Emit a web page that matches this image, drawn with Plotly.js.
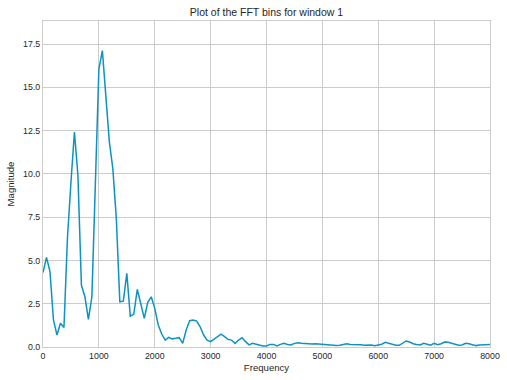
<!DOCTYPE html>
<html>
<head>
<meta charset="utf-8">
<script src="https://cdn.plot.ly/plotly-3.0.1.min.js"></script>
<style>
  html, body { margin: 0; padding: 0; background: #ffffff; }
  #chart { width: 507px; height: 380px; }
</style>
</head>
<body>
<div id="chart"></div>
<script>
// FFT bin frequencies (Hz)
const frequencies = [
  0, 62.5, 125, 187.5, 250, 312.5, 375, 437.5, 500, 562.5,
  625, 687.5, 750, 812.5, 875, 937.5, 1000, 1062.5, 1125, 1187.5,
  1250, 1312.5, 1375, 1437.5, 1500, 1562.5, 1625, 1687.5, 1750, 1812.5,
  1875, 1937.5, 2000, 2062.5, 2125, 2187.5, 2250, 2312.5, 2375, 2437.5,
  2500, 2562.5, 2625, 2687.5, 2750, 2812.5, 2875, 2937.5, 3000, 3062.5,
  3125, 3187.5, 3250, 3312.5, 3375, 3437.5, 3500, 3562.5, 3625, 3687.5,
  3750, 3812.5, 3875, 3937.5, 4000, 4062.5, 4125, 4187.5, 4250, 4312.5,
  4375, 4437.5, 4500, 4562.5, 4625, 4687.5, 4750, 4812.5, 4875, 4937.5,
  5000, 5062.5, 5125, 5187.5, 5250, 5312.5, 5375, 5437.5, 5500, 5562.5,
  5625, 5687.5, 5750, 5812.5, 5875, 5937.5, 6000, 6062.5, 6125, 6187.5,
  6250, 6312.5, 6375, 6437.5, 6500, 6562.5, 6625, 6687.5, 6750, 6812.5,
  6875, 6937.5, 7000, 7062.5, 7125, 7187.5, 7250, 7312.5, 7375, 7437.5,
  7500, 7562.5, 7625, 7687.5, 7750, 7812.5, 7875, 7937.5, 8000
];

// FFT magnitudes for window 1
const magnitudes = [
  4.30, 5.18, 4.35, 1.56, 0.69, 1.37, 1.13, 6.30, 9.50, 12.42,
  9.92, 3.58, 2.90, 1.60, 2.90, 9.00, 16.05, 17.12, 14.30, 11.85,
  10.30, 7.40, 2.61, 2.65, 4.25, 1.78, 1.90, 3.33, 2.50, 1.65,
  2.58, 2.90, 2.23, 1.27, 0.75, 0.40, 0.56, 0.47, 0.50, 0.54,
  0.21, 0.98, 1.52, 1.56, 1.50, 1.17, 0.69, 0.40, 0.31, 0.47,
  0.63, 0.74, 0.60, 0.44, 0.40, 0.21, 0.40, 0.54, 0.31, 0.12,
  0.21, 0.15, 0.12, 0.06, 0.06, 0.15, 0.15, 0.06, 0.15, 0.21,
  0.15, 0.12, 0.21, 0.25, 0.21, 0.19, 0.19, 0.18, 0.19, 0.17,
  0.13, 0.12, 0.13, 0.11, 0.09, 0.10, 0.15, 0.19, 0.15, 0.14,
  0.17, 0.13, 0.10, 0.13, 0.12, 0.07, 0.10, 0.16, 0.27, 0.22,
  0.15, 0.10, 0.10, 0.21, 0.35, 0.29, 0.19, 0.15, 0.12, 0.21,
  0.17, 0.10, 0.21, 0.13, 0.19, 0.29, 0.27, 0.21, 0.15, 0.10,
  0.12, 0.21, 0.19, 0.13, 0.08, 0.12, 0.13, 0.15, 0.15
];

const xTickValues = [0, 1000, 2000, 3000, 4000, 5000, 6000, 7000, 8000];
const yTickValues = [0, 2.5, 5, 7.5, 10, 12.5, 15, 17.5];

const titleText = 'Plot of the FFT bins for window 1';
const xLabel = 'Frequency';
const yLabel = 'Magnitude';

const FONT = 'Liberation Sans, Arial, Helvetica, sans-serif';
const GRID = '#cccccc';

const trace = {
  x: frequencies,
  y: magnitudes,
  type: 'scatter',
  mode: 'lines',
  line: { color: '#0c93c3', width: 1.5 },
  hoverinfo: 'x+y'
};

const layout = {
  width: 507,
  height: 380,
  margin: { l: 43, r: 17, t: 21, b: 33, pad: 0 },
  paper_bgcolor: '#ffffff',
  plot_bgcolor: '#ffffff',
  showlegend: false,
  font: { family: FONT, size: 9, color: '#262626' },
  title: {
    text: titleText,
    font: { family: FONT, size: 10.5, color: '#262626' },
    x: 0.5,
    xref: 'paper',
    xanchor: 'center',
    y: 1,
    yref: 'paper',
    yanchor: 'bottom',
    pad: { b: 5 }
  },
  xaxis: {
    range: [0, 8000],
    tickmode: 'array',
    tickvals: xTickValues,
    ticktext: xTickValues.map(String),
    showgrid: true,
    gridcolor: GRID,
    gridwidth: 1,
    zeroline: false,
    showline: true,
    linecolor: GRID,
    linewidth: 1,
    mirror: true,
    ticks: '',
    tickfont: { family: FONT, size: 8.8, color: '#262626' },
    title: {
      text: xLabel,
      font: { family: FONT, size: 9.6, color: '#262626' },
      standoff: 4
    }
  },
  yaxis: {
    range: [0, 18.83],
    tickmode: 'array',
    tickvals: yTickValues,
    ticktext: yTickValues.map(v => v.toFixed(1)),
    showgrid: true,
    gridcolor: GRID,
    gridwidth: 1,
    zeroline: false,
    showline: true,
    linecolor: GRID,
    linewidth: 1,
    mirror: true,
    ticks: '',
    tickfont: { family: FONT, size: 8.8, color: '#262626' },
    title: {
      text: yLabel,
      font: { family: FONT, size: 9.6, color: '#262626' },
      standoff: 6
    }
  }
};

Plotly.newPlot('chart', [trace], layout, { displayModeBar: false, staticPlot: true });
</script>
</body>
</html>
